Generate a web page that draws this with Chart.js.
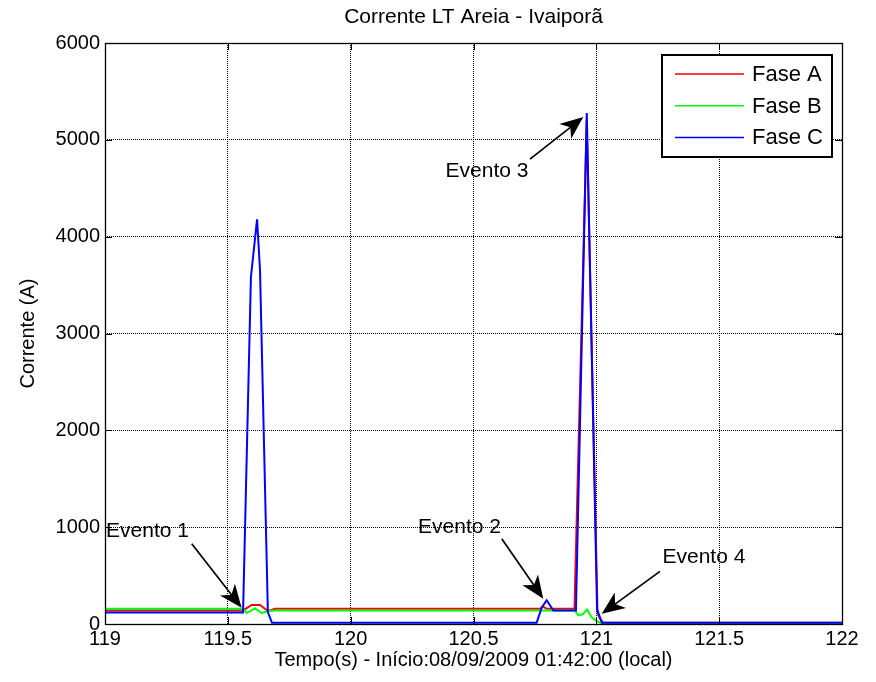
<!DOCTYPE html>
<html>
<head>
<meta charset="utf-8">
<title>Corrente LT Areia - Ivaiporã</title>
<script src="https://cdn.jsdelivr.net/npm/chart.js@4/dist/chart.umd.min.js"></script>
<style>
  html, body { margin: 0; padding: 0; background: #fff; }
  #grafico { display: block; }
</style>
</head>
<body>
<canvas id="grafico" width="876" height="682"></canvas>
<script>
const titulo = 'Corrente LT Areia - Ivaiporã'
const rotuloX = 'Tempo(s) - Início:08/09/2009 01:42:00 (local)'
const rotuloY = 'Corrente (A)'
const fases = ['Fase A', 'Fase B', 'Fase C']
const cores = ['#ff0000', '#00ff00', '#0000ff']

// Fase A
const tempoA = [119.000, 119.562, 119.597, 119.631, 119.658, 119.672, 119.692, 120.771, 120.783, 120.799, 120.911, 120.961, 121.005, 121.015, 121.027, 122.000]
const correnteA = [140, 140, 196, 196, 144, 140, 157, 157, 180, 157, 157, 5200, 110, 55, 14, 14]

// Fase B
const tempoB = [119.000, 119.562, 119.577, 119.611, 119.638, 119.665, 119.692, 120.913, 120.927, 120.945, 120.962, 120.981, 121.002, 121.022, 122.000]
const correnteB = [157, 157, 113, 162, 113, 135, 140, 140, 90, 100, 150, 70, 30, 6, 8]

// Fase C
const tempoC = [119.000, 119.562, 119.594, 119.619, 119.631, 119.663, 119.680, 120.757, 120.778, 120.798, 120.825, 120.917, 120.961, 121.003, 121.023, 122.000]
const correnteC = [119, 119, 3584, 4179, 3656, 120, 12, 12, 170, 245, 140, 140, 5277, 150, 12, 12]

const ticksX = [119, 119.5, 120, 120.5, 121, 121.5, 122]
const ticksY = [0, 1000, 2000, 3000, 4000, 5000, 6000]

// eventos: texto (tempo, corrente) e seta (origem -> ponta)
const eventos = ['Evento 1', 'Evento 2', 'Evento 3', 'Evento 4']
const eventoTexto = [[119.173, 960], [120.443, 1001], [120.555, 4672], [121.438, 691]]
const eventoSeta = [
    [119.353, 829, 119.556, 168],
    [120.615, 881, 120.784, 261],
    [120.730, 4800, 120.947, 5235],
    [121.259, 543, 121.022, 105]
]

const fonte = '"Liberation Sans", Arial, Helvetica, sans-serif'
Chart.defaults.font.family = fonte
Chart.defaults.color = '#000'

function serie(tempos, valores) {
    return tempos.map((t, i) => ({ x: t, y: valores[i] }))
}

function seta(ctx, x0, y0, x1, y1) {
    const ang = Math.atan2(y1 - y0, x1 - x0)
    const c = Math.cos(ang), s = Math.sin(ang)
    const comp = 23, larg = 9.5
    ctx.beginPath()
    ctx.moveTo(x0, y0)
    ctx.lineTo(x1 - comp * 0.7 * c, y1 - comp * 0.7 * s)
    ctx.stroke()
    const bx = x1 - comp * c, by = y1 - comp * s
    ctx.beginPath()
    ctx.moveTo(x1, y1)
    ctx.lineTo(bx - s * larg, by + c * larg)
    ctx.lineTo(x1 - comp * 0.72 * c, y1 - comp * 0.72 * s)
    ctx.lineTo(bx + s * larg, by - c * larg)
    ctx.closePath()
    ctx.fill()
}

// moldura, marcas internas, eventos, legenda e titulo
const extras = {
    id: 'extras',
    afterDatasetsDraw(chart) {
        const { ctx, chartArea: a, scales: { x, y } } = chart
        ctx.save()
        ctx.setLineDash([])
        ctx.strokeStyle = '#000'
        ctx.fillStyle = '#000'

        // marcas internas
        ctx.lineWidth = 1
        ctx.beginPath()
        ticksX.forEach(v => {
            const px = Math.round(x.getPixelForValue(v)) + 0.5
            ctx.moveTo(px, a.bottom); ctx.lineTo(px, a.bottom - 7)
            ctx.moveTo(px, a.top); ctx.lineTo(px, a.top + 7)
        })
        ticksY.forEach(v => {
            const py = Math.round(y.getPixelForValue(v)) + 0.5
            ctx.moveTo(a.left, py); ctx.lineTo(a.left + 7, py)
            ctx.moveTo(a.right, py); ctx.lineTo(a.right - 7, py)
        })
        ctx.stroke()

        // moldura
        ctx.lineWidth = 1.3
        ctx.strokeRect(Math.round(a.left) + 0.5, Math.round(a.top) + 0.5,
            Math.round(a.right - a.left), Math.round(a.bottom - a.top))

        // eventos
        ctx.font = '21px ' + fonte
        ctx.textAlign = 'center'
        ctx.textBaseline = 'middle'
        eventos.forEach((txt, i) => {
            const [tt, vt] = eventoTexto[i]
            ctx.fillText(txt, x.getPixelForValue(tt), y.getPixelForValue(vt))
            const [t0, v0, t1, v1] = eventoSeta[i]
            ctx.lineWidth = 1.7
            seta(ctx, x.getPixelForValue(t0), y.getPixelForValue(v0),
                x.getPixelForValue(t1), y.getPixelForValue(v1))
        })

        // legenda
        const lx = a.right - 180, ly = a.top + 12, lw = 170, lh = 102
        ctx.fillStyle = '#fff'
        ctx.fillRect(lx, ly, lw, lh)
        ctx.lineWidth = 2
        ctx.strokeRect(lx, ly, lw, lh)
        ctx.font = '22px ' + fonte
        ctx.textAlign = 'left'
        chart.data.datasets.forEach((ds, i) => {
            const yy = ly + 19 + i * 31.7
            ctx.strokeStyle = ds.borderColor
            ctx.lineWidth = 1.5
            ctx.beginPath()
            ctx.moveTo(lx + 13, yy); ctx.lineTo(lx + 82, yy)
            ctx.stroke()
            ctx.fillStyle = '#000'
            ctx.fillText(ds.label, lx + 90, yy + 1)
        })

        // titulo
        ctx.font = '21px ' + fonte
        ctx.textAlign = 'center'
        ctx.fillText(titulo, (a.left + a.right) / 2, 17)
        ctx.restore()
    }
}

const dados = [[tempoA, correnteA], [tempoB, correnteB], [tempoC, correnteC]]

new Chart(document.querySelector('#grafico'), {
    type: 'line',
    data: {
        datasets: dados.map((d, i) => ({
            label: fases[i],
            data: serie(d[0], d[1]),
            borderColor: cores[i],
            backgroundColor: cores[i],
            borderWidth: 2,
            pointRadius: 0,
            tension: 0,
            fill: false,
            order: 3 - i
        }))
    },
    options: {
        responsive: false,
        animation: false,
        devicePixelRatio: 1,
        layout: { padding: { top: 43, right: 34, bottom: 0, left: 0 } },
        plugins: {
            legend: { display: false },
            title: { display: false },
            tooltip: { enabled: false }
        },
        scales: {
            x: {
                type: 'linear',
                min: 119,
                max: 122,
                afterBuildTicks: s => { s.ticks = ticksX.map(v => ({ value: v })) },
                afterFit: s => { s.height = 58 },
                ticks: {
                    font: { size: 20 },
                    padding: 3,
                    maxRotation: 0,
                    callback: v => String(v)
                },
                grid: { color: '#000', lineWidth: 1, drawTicks: false },
                border: { display: false, dash: [1, 1] },
                title: {
                    display: true,
                    text: rotuloX,
                    font: { size: 20 },
                    padding: { top: 0, bottom: 10 }
                }
            },
            y: {
                type: 'linear',
                min: 0,
                max: 6000,
                afterBuildTicks: s => { s.ticks = ticksY.map(v => ({ value: v })) },
                afterFit: s => { s.width = 105 },
                ticks: {
                    font: { size: 20 },
                    padding: 5,
                    callback: v => String(v)
                },
                grid: { color: '#000', lineWidth: 1, drawTicks: false },
                border: { display: false, dash: [1, 1] },
                title: {
                    display: true,
                    text: rotuloY,
                    font: { size: 20 },
                    padding: { top: 16, bottom: 0 }
                }
            }
        }
    },
    plugins: [extras]
})
</script>
</body>
</html>
